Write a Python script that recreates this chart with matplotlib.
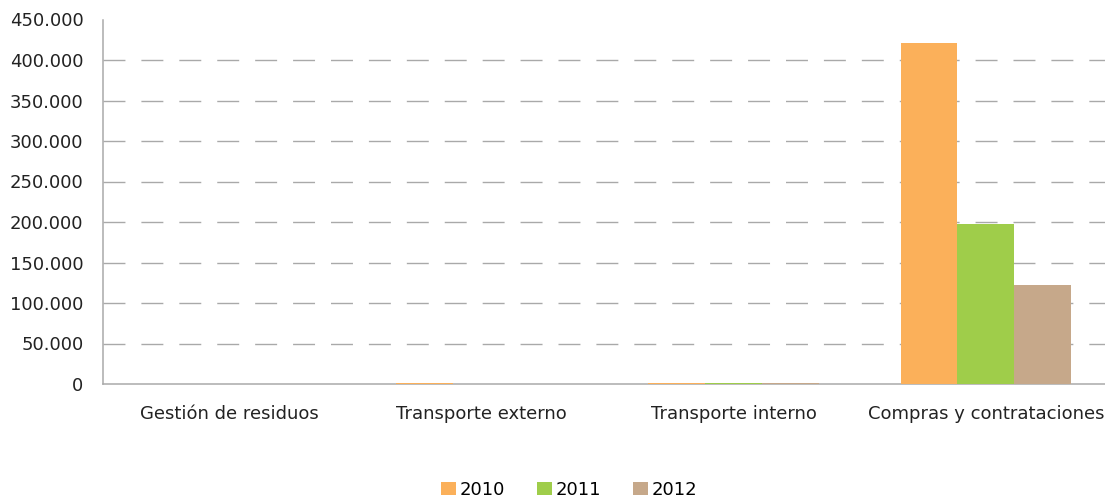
import matplotlib.pyplot as plt
import numpy as np
from matplotlib.ticker import FuncFormatter

categories = ['Gestión de residuos', 'Transporte externo', 'Transporte interno', 'Compras y contrataciones']
years = ['2010', '2011', '2012']
values_2010 = [0, 800, 800, 421000]
values_2011 = [0, 600, 800, 197500]
values_2012 = [0, 0, 800, 122000]
colors = ['#fbb05a', '#9fcd4a', '#c6a88a']

plt.rcParams['font.family'] = ['DejaVu Sans']
fig = plt.figure(figsize=(11.05, 5), dpi=100)
ax = fig.add_axes([103 / 1105, 116 / 500, 1009 / 1105, 364.5 / 500])

x = np.arange(len(categories))
w = 0.225
for i, (vals, year) in enumerate(zip([values_2010, values_2011, values_2012], years)):
    ax.bar(x + (i - 1) * w, vals, w, color=colors[i], label=year, zorder=3)

# dashed gridlines, skipping the top one
for y in range(50000, 450000, 50000):
    ax.axhline(y, color='#a9a9a9', lw=1.0, dashes=(15.8, 11.5), zorder=1)

ax.set_xlim(-0.5, 3.5)
ax.set_ylim(0, 450000)
ax.set_yticks(range(0, 450001, 50000))
ax.yaxis.set_major_formatter(FuncFormatter(lambda v, p: f'{int(v):,}'.replace(',', '.')))
ax.set_xticks(x)
ax.set_xticklabels(categories)
ax.tick_params(axis='both', length=0, labelsize=13, colors='#222222')
ax.tick_params(axis='x', pad=15)
ax.tick_params(axis='y', pad=14)

for s in ['top', 'right']:
    ax.spines[s].set_visible(False)
for s in ['left', 'bottom']:
    ax.spines[s].set_color('#a9a9a9')
    ax.spines[s].set_linewidth(1.1)

fig.legend(loc='lower center', bbox_to_anchor=(0.515, -0.03), ncol=3, frameon=False,
           fontsize=13, handlelength=0.8, handleheight=0.8, handletextpad=0.2, columnspacing=1.8)

fig.savefig('out.png', dpi=100)
